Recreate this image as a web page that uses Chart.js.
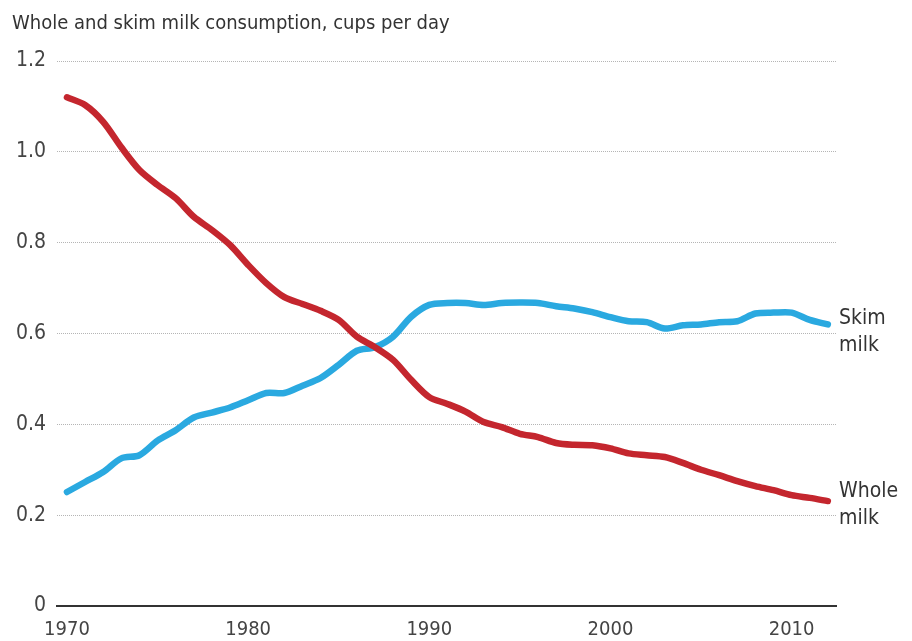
<!DOCTYPE html>
<html>
<head>
<meta charset="utf-8">
<title>Whole and skim milk consumption</title>
<script src="https://cdn.jsdelivr.net/npm/chart.js@4/dist/chart.umd.min.js"></script>
<style>
  html, body { margin: 0; padding: 0; background: #fff; }
  #wrap { width: 912px; height: 641px; }
</style>
</head>
<body>
<div id="wrap"><canvas id="milk" width="912" height="641"></canvas></div>
<script>
// Years covered by the series
const years = [
  1970, 1971, 1972, 1973, 1974, 1975, 1976, 1977, 1978, 1979,
  1980, 1981, 1982, 1983, 1984, 1985, 1986, 1987, 1988, 1989,
  1990, 1991, 1992, 1993, 1994, 1995, 1996, 1997, 1998, 1999,
  2000, 2001, 2002, 2003, 2004, 2005, 2006, 2007, 2008, 2009,
  2010, 2011, 2012
];

// Whole milk, cups per day
const wholeMilk = [
  1.120, 1.103, 1.066, 1.010, 0.960, 0.927, 0.898, 0.857, 0.828, 0.795,
  0.751, 0.711, 0.680, 0.665, 0.650, 0.630, 0.593, 0.570, 0.542, 0.498,
  0.460, 0.445, 0.428, 0.405, 0.394, 0.379, 0.372, 0.359, 0.355, 0.354,
  0.347, 0.336, 0.332, 0.328, 0.315, 0.300, 0.288, 0.275, 0.264, 0.255,
  0.244, 0.238, 0.231
];

// Skim milk, cups per day
const skimMilk = [
  0.251, 0.273, 0.295, 0.325, 0.332, 0.364, 0.387, 0.415, 0.426, 0.437,
  0.453, 0.469, 0.469, 0.485, 0.502, 0.531, 0.562, 0.570, 0.593, 0.637,
  0.663, 0.667, 0.667, 0.663, 0.667, 0.668, 0.667, 0.660, 0.655, 0.647,
  0.636, 0.627, 0.625, 0.611, 0.618, 0.620, 0.625, 0.627, 0.644, 0.646,
  0.646, 0.630, 0.620
];

// Axis ticks
const xTicks = [1970, 1980, 1990, 2000, 2010];
const yTicks = [0, 0.2, 0.4, 0.6, 0.8, 1.0, 1.2];

// End-of-line labels
const seriesLabels = {
  whole: ['Whole', 'milk'],
  skim: ['Skim', 'milk']
};

const FONT = '"DejaVu Sans Condensed", "Liberation Sans Narrow", Roboto, sans-serif';
const RED = '#c4262e';
const BLUE = '#2aa9e0';

// Writes each series name just past the end of its line
const endLabels = {
  id: 'endLabels',
  afterDatasetsDraw(chart) {
    const ctx = chart.ctx;
    ctx.save();
    ctx.font = '21px ' + FONT;
    ctx.fillStyle = '#333';
    ctx.textAlign = 'left';
    ctx.textBaseline = 'middle';
    chart.data.datasets.forEach((ds, i) => {
      const meta = chart.getDatasetMeta(i);
      const last = meta.data[meta.data.length - 1];
      const lines = ds.endLabel;
      const x = chart.chartArea.right + 3;
      const lh = 27;
      const y0 = last.y + (ds.endLabelShift || 0) - (lines.length - 1) * lh / 2;
      lines.forEach((t, k) => ctx.fillText(t, x, y0 + k * lh));
    });
    ctx.restore();
  }
};

new Chart(document.getElementById('milk'), {
  type: 'line',
  data: {
    datasets: [
      {
        label: 'Whole milk',
        endLabel: seriesLabels.whole,
        endLabelShift: 4,
        data: years.map((y, i) => ({ x: y, y: wholeMilk[i] })),
        borderColor: RED,
        borderWidth: 6.5,
        borderCapStyle: 'round',
        borderJoinStyle: 'round',
        pointRadius: 0,
        tension: 0.3,
        fill: false
      },
      {
        label: 'Skim milk',
        endLabel: seriesLabels.skim,
        endLabelShift: 8,
        data: years.map((y, i) => ({ x: y, y: skimMilk[i] })),
        borderColor: BLUE,
        borderWidth: 6.5,
        borderCapStyle: 'round',
        borderJoinStyle: 'round',
        pointRadius: 0,
        tension: 0.3,
        fill: false
      }
    ]
  },
  options: {
    responsive: false,
    animation: false,
    layout: { padding: { top: 12, left: 12, right: 76, bottom: 0 } },
    plugins: {
      legend: { display: false },
      tooltip: { enabled: false },
      title: {
        display: true,
        text: 'Whole and skim milk consumption, cups per day',
        align: 'start',
        color: '#333',
        font: { family: FONT, size: 20, weight: 'normal', lineHeight: 1.2 },
        padding: { top: 0, bottom: 25 }
      }
    },
    scales: {
      x: {
        type: 'linear',
        min: 1969.45,
        max: 2012.45,
        afterBuildTicks: s => { s.ticks = xTicks.map(v => ({ value: v })); },
        afterFit: s => { s.height = 35; },
        grid: { display: false, drawTicks: false },
        border: { display: true, color: '#333', width: 2 },
        ticks: {
          padding: 12,
          color: '#444',
          font: { family: FONT, size: 20 },
          maxRotation: 0,
          callback: v => String(v)
        }
      },
      y: {
        min: 0,
        max: 1.2,
        afterBuildTicks: s => { s.ticks = yTicks.map(v => ({ value: v })); },
        afterFit: s => { s.width = 45; },
        grid: {
          drawTicks: false,
          color: c => (c.tick && c.tick.value === 0) ? 'rgba(0,0,0,0)' : '#b5b5b5',
          lineWidth: 1
        },
        border: { display: false, dash: [1, 1] },
        ticks: {
          padding: 11,
          color: '#444',
          font: { family: FONT, size: 21 },
          callback: v => v === 0 ? '0' : v.toFixed(1)
        }
      }
    }
  },
  plugins: [endLabels]
});
</script>
</body>
</html>
